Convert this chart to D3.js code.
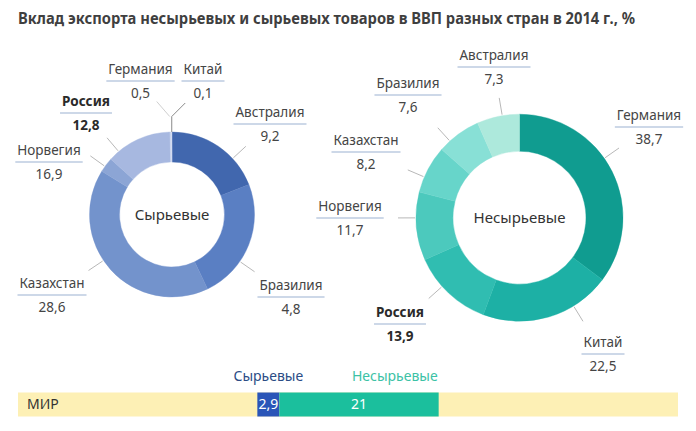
<!DOCTYPE html>
<html><head><meta charset="utf-8">
<script src="https://cdn.jsdelivr.net/npm/d3@7"></script>
<style>
body{margin:0;background:#fff;}
svg text{font-family:"Noto Sans","Open Sans",sans-serif;}
</style>
</head><body>
<svg id="chart" width="696" height="431"></svg>
<script>
// ---------- DATA ----------
const titleText = "Вклад экспорта несырьевых и сырьевых товаров в ВВП разных стран в 2014 г., %";
const highlightCountry = "Россия";

// Raw (сырьевые) exports
const rawCategory = "Сырьевые";
const rawCountries = ["Австралия", "Бразилия", "Казахстан", "Норвегия", "Россия", "Германия", "Китай"];
const rawValues = [9.2, 4.8, 28.6, 16.9, 12.8, 0.5, 0.1];
// ring shares as drawn in the source picture (% of the ring)
const rawArcShare = [19.1, 23.8, 40.9, 2.9, 12.9, 0.3, 0.1];
const rawColors = ["#4167ae", "#5a7fc3", "#7393cc", "#8ca5d5", "#a7b8e0", "#c9d4ee", "#d6ddf2"];

// Non-raw (несырьевые) exports
const nonRawCategory = "Несырьевые";
const nonRawCountries = ["Германия", "Китай", "Россия", "Норвегия", "Казахстан", "Бразилия", "Австралия"];
const nonRawValues = [38.7, 22.5, 13.9, 11.7, 8.2, 7.6, 7.3];
const nonRawColors = ["#109c90", "#1db0a5", "#30bdb1", "#4cc9bd", "#67d5ca", "#88e0d6", "#ade9dc"];

// World bar
const worldLabel = "МИР";
const worldCategories = ["Сырьевые", "Несырьевые"];
const worldValues = [2.9, 21];
const worldColors = ["#2a55b8", "#1bbf9d"];
const worldLabelColors = ["#2b4c85", "#3cc2a6"];

// ---------- LAYOUT ----------
const W = 696, H = 431;
const fmt = v => String(v).replace(".", ",");
const svg = d3.select("#chart");
svg.append("rect").attr("width", W).attr("height", H).attr("fill", "#ffffff");

svg.append("text")
  .attr("x", 18).attr("y", 24)
  .attr("textLength", 617).attr("lengthAdjust", "spacingAndGlyphs")
  .attr("font-size", 16).attr("font-weight", 700).attr("fill", "#3f3f3f")
  .text(titleText);

const leftLayout = {
  cx: 172, cy: 214.5, R: 82.5, r: 52.5,
  labels: {"Австралия": [270, 112], "Бразилия": [291, 285], "Казахстан": [52, 283],
           "Норвегия": [49, 150], "Россия": [86, 101], "Германия": [140.5, 69], "Китай": [203, 69]},
  elbow: {"Китай": "right", "Германия": "left"}
};
const rightLayout = {
  cx: 519.5, cy: 217.7, R: 103.5, r: 66.5,
  labels: {"Германия": [649, 115], "Китай": [603, 342], "Россия": [400, 312], "Норвегия": [350, 206],
           "Казахстан": [366, 140], "Бразилия": [408, 83], "Австралия": [494, 55]},
  elbow: {}
};

function drawDonut(L, countries, values, arcWeights, colors, centerText) {
  const g = svg.append("g");
  const items = countries.map((c, i) => ({country: c, value: values[i], weight: arcWeights[i], color: colors[i]}));
  const pie = d3.pie().sort(null).value(d => d.weight);
  const arcs = pie(items);
  const arc = d3.arc().innerRadius(L.r).outerRadius(L.R);
  const ring = g.append("g").attr("transform", `translate(${L.cx},${L.cy})`);
  ring.selectAll("path").data(arcs).join("path")
    .attr("d", arc).attr("fill", d => d.data.color)
    .attr("stroke", d => d.data.color).attr("stroke-width", 0.4);
  ring.append("text").attr("text-anchor", "middle").attr("dy", "0.35em")
    .attr("font-size", 15).attr("fill", "#333").text(centerText);

  const pt = (a, rad) => [L.cx + rad * Math.sin(a), L.cy - rad * Math.cos(a)];
  const deg = Math.PI / 180;

  arcs.forEach(d => {
    const c = d.data.country;
    const [lx, ly] = L.labels[c];
    const bold = c === highlightCountry;
    const lg = g.append("g");
    const t = lg.append("text").attr("x", lx).attr("y", ly).attr("dy", "0.35em")
      .attr("text-anchor", "middle").attr("font-size", 13.5)
      .attr("font-weight", bold ? 700 : 400).attr("fill", bold ? "#2a2a2a" : "#454545").text(c);
    const bb = t.node().getBBox();
    lg.append("line").attr("x1", bb.x - 2).attr("x2", bb.x + bb.width + 2)
      .attr("y1", ly + 12).attr("y2", ly + 12)
      .attr("stroke", "#bccbe0").attr("stroke-width", 1.5);
    lg.append("text").attr("x", lx).attr("y", ly + 24.5).attr("dy", "0.35em")
      .attr("text-anchor", "middle").attr("font-size", 13.5)
      .attr("font-weight", bold ? 700 : 400).attr("fill", bold ? "#2a2a2a" : "#454545").text(fmt(d.data.value));

    const mid = (d.startAngle + d.endAngle) / 2;
    if (L.elbow[c]) {
      const base = pt(mid, L.R);
      const bend = [base[0], base[1] - 15.5];
      if (L.elbow[c] === "right") {
        g.append("polyline")
          .attr("points", [base, bend, [bend[0] + 13.5, bend[1] - 13.5]].map(p => p.join(",")).join(" "))
          .attr("fill", "none").attr("stroke", "#8a8a8a").attr("stroke-width", 1);
      } else {
        g.append("line").attr("x1", bend[0] - 1).attr("y1", bend[1])
          .attr("x2", bend[0] - 14).attr("y2", bend[1] - 15)
          .attr("stroke", "#cfcfcf").attr("stroke-width", 1);
      }
      return;
    }
    let a = Math.atan2(lx - L.cx, -((ly + 12) - L.cy));
    if (a < 0) a += 2 * Math.PI;
    const m = Math.min(4 * deg, (d.endAngle - d.startAngle) / 2);
    a = Math.max(d.startAngle + m, Math.min(d.endAngle - m, a));
    const p1 = pt(a, L.R + 1), p2 = pt(a, L.R + 18);
    g.append("line").attr("x1", p1[0]).attr("y1", p1[1]).attr("x2", p2[0]).attr("y2", p2[1])
      .attr("stroke", "#b8b8b8").attr("stroke-width", 1);
  });
}

drawDonut(leftLayout, rawCountries, rawValues, rawArcShare, rawColors, rawCategory);
drawDonut(rightLayout, nonRawCountries, nonRawValues, nonRawValues, nonRawColors, nonRawCategory);

// ---------- WORLD BAR ----------
const barTop = 392.5, barH = 24;
const worldAxisMax = 87;
const x = d3.scaleLinear().domain([0, worldAxisMax]).range([18, 678]);
const total = d3.sum(worldValues);
const start0 = (worldAxisMax - total) / 2;
svg.append("rect").attr("x", x(0)).attr("y", barTop).attr("width", x(worldAxisMax) - x(0)).attr("height", barH)
  .attr("fill", "#fdf0b5");
svg.append("text").attr("x", 27).attr("y", barTop + barH / 2).attr("dy", "0.35em")
  .attr("font-size", 14).attr("fill", "#333").text(worldLabel);

let acc = start0;
const segs = worldValues.map((v, i) => { const s = {v, i, x0: acc, x1: acc + v}; acc += v; return s; });
svg.selectAll("rect.seg").data(segs).join("rect").attr("class", "seg")
  .attr("x", d => x(d.x0)).attr("width", d => x(d.x1) - x(d.x0))
  .attr("y", barTop).attr("height", barH).attr("fill", d => worldColors[d.i]);
svg.selectAll("text.segv").data(segs).join("text").attr("class", "segv")
  .attr("x", d => (x(d.x0) + x(d.x1)) / 2).attr("y", barTop + barH / 2).attr("dy", "0.35em")
  .attr("text-anchor", "middle").attr("font-size", 14).attr("fill", "#fff")
  .text(d => fmt(d.v));
svg.selectAll("text.segl").data(segs).join("text").attr("class", "segl")
  .attr("x", d => d.i === 0 ? (x(d.x0) + x(d.x1)) / 2 : x(d.x1) - 1)
  .attr("y", 376).attr("dy", "0.35em")
  .attr("text-anchor", d => d.i === 0 ? "middle" : "end")
  .attr("font-size", 14).attr("fill", d => worldLabelColors[d.i])
  .text(d => worldCategories[d.i]);
</script>
</body></html>
